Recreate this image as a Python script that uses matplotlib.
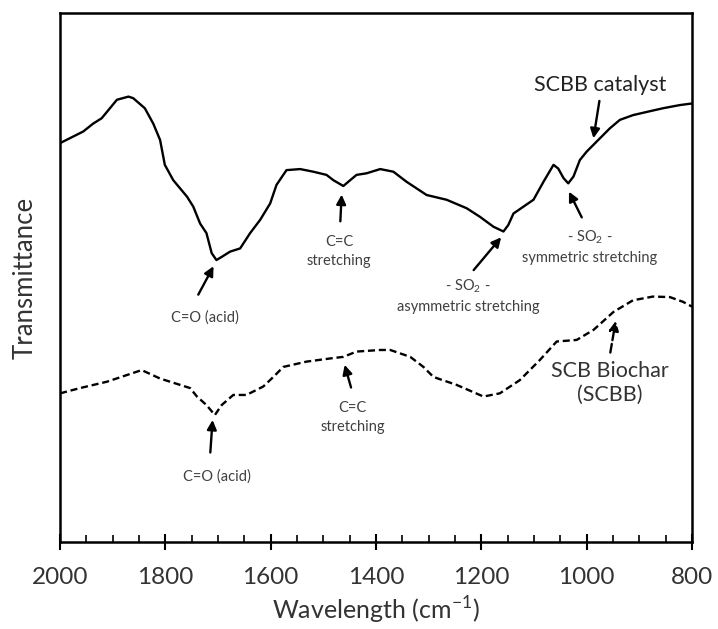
import matplotlib
matplotlib.use("Agg")
import matplotlib.pyplot as plt
from matplotlib.ticker import MultipleLocator

plt.rcParams['font.family'] = ['Lato', 'DejaVu Sans']
plt.rcParams['mathtext.fontset'] = 'custom'
plt.rcParams['mathtext.rm'] = 'Lato'

# SCBB catalyst (solid), wavenumber (cm-1) vs transmittance (a.u.)
catalyst_wn = [2000, 1956, 1937, 1921, 1911, 1892, 1870, 1861, 1839, 1823,
               1810, 1801, 1785, 1759, 1747, 1734, 1722, 1712, 1703, 1693,
               1677, 1658, 1639, 1620, 1601, 1589, 1570, 1544, 1519, 1494,
               1481, 1462, 1449, 1437, 1418, 1392, 1367, 1342, 1304, 1266,
               1228, 1203, 1177, 1158, 1149, 1139, 1120, 1101, 1082, 1063,
               1054, 1044, 1035, 1025, 1013, 1000, 975, 956, 937, 912,
               886, 855, 823, 800]
catalyst_t = [75.4, 77.6, 79.1, 80.1, 81.3, 83.6, 84.2, 83.9, 82.0, 79.1,
              76.0, 71.3, 68.4, 65.3, 63.4, 60.2, 58.4, 54.6, 53.3, 53.9,
              54.9, 55.5, 58.4, 60.9, 64.0, 67.5, 70.3, 70.5, 70.0, 69.4,
              68.4, 67.3, 68.4, 69.4, 69.7, 70.5, 70.0, 68.1, 65.6, 64.7,
              63.1, 61.5, 59.6, 58.7, 59.9, 62.1, 63.4, 64.7, 68.1, 71.3,
              70.6, 68.8, 67.8, 69.1, 72.2, 73.8, 76.3, 78.2, 79.8, 80.7,
              81.3, 82.0, 82.6, 82.9]

# SCB Biochar (dashed)
biochar_wn = [2000, 1962, 1911, 1845, 1810, 1753, 1740, 1722, 1706, 1693,
              1671, 1646, 1614, 1595, 1576, 1532, 1487, 1462, 1437, 1392,
              1373, 1335, 1310, 1291, 1247, 1196, 1165, 1127, 1089, 1057,
              1019, 987, 949, 912, 874, 842, 817, 800]
biochar_t = [28.1, 29.1, 30.3, 32.5, 30.9, 29.1, 27.5, 25.9, 24.0, 25.9,
             27.8, 27.8, 29.4, 31.2, 33.1, 34.1, 34.7, 35.0, 36.0, 36.3,
             36.3, 35.0, 33.1, 31.2, 29.7, 27.5, 28.1, 30.6, 34.4, 37.9,
             38.2, 40.1, 43.5, 45.7, 46.4, 46.3, 45.4, 44.5]

# peak labels: text, text position, arrow tail, arrow head
peak_labels = ["C=O (acid)", "C=C\nstretching",
               "- SO$_2$ -\nasymmetric stretching",
               "- SO$_2$ -\nsymmetric stretching",
               "C=C\nstretching", "C=O (acid)"]
peak_text_xy = [(1725, 42.5), (1470, 55.0), (1225, 46.5), (994, 55.8),
                (1444, 23.6), (1702, 12.3)]
peak_tail_xy = [(1740, 46.3), (1468, 60.1), (1218, 51.0), (1007, 60.9),
                (1446, 28.7), (1715, 16.4)]
peak_head_xy = [(1706, 52.6), (1465, 66.2), (1159, 58.0), (1036, 66.7),
                (1461, 34.0), (1710, 23.6)]


def main():
    fig = plt.figure(figsize=(7.18, 6.29), dpi=100)
    ax = fig.add_axes([0.0836, 0.1383, 0.8802, 0.841])

    ax.plot(catalyst_wn, catalyst_t, color="black", lw=1.7)
    ax.plot(biochar_wn, biochar_t, color="black", lw=1.7,
            linestyle=(0, (3, 1.6)))

    for lab, txy, tail, head in zip(peak_labels, peak_text_xy,
                                    peak_tail_xy, peak_head_xy):
        ax.text(txy[0], txy[1], lab, ha="center", va="center",
                fontsize=10.5, color="#404040", linespacing=1.45)
        ax.annotate("", xy=head, xytext=tail,
                    arrowprops=dict(arrowstyle="-|>", color="black",
                                    lw=1.7, mutation_scale=14))

    # series labels
    ax.text(975, 86.4, "SCBB catalyst", ha="center", va="center",
            fontsize=15.5, color="#222222")
    ax.annotate("", xy=(988, 75.8), xytext=(975, 83.9),
                arrowprops=dict(arrowstyle="-|>", color="black",
                                lw=1.7, mutation_scale=14))
    ax.text(956, 30.1, "SCB Biochar\n(SCBB)", ha="center", va="center",
            fontsize=15.5, color="#333333", linespacing=1.2)
    ax.annotate("", xy=(944, 42.3), xytext=(956, 35.3),
                arrowprops=dict(arrowstyle="-|>", color="black",
                                lw=1.7, linestyle="--", mutation_scale=14))

    ax.set_xlim(2000, 800)
    ax.set_ylim(0, 100)
    ax.xaxis.set_major_locator(MultipleLocator(200))
    ax.xaxis.set_minor_locator(MultipleLocator(50))
    ax.tick_params(axis="x", which="major", direction="inout", length=12,
                   width=1.5, labelsize=17.5, pad=12, colors="black",
                   labelcolor="#333333")
    ax.tick_params(axis="x", which="minor", direction="in", length=5,
                   width=1.2)
    ax.set_yticks([])
    for sp in ax.spines.values():
        sp.set_linewidth(1.8)

    ax.set_xlabel("Wavelength (cm$^{-1}$)", fontsize=18, labelpad=5,
                  color="#333333")
    ax.set_ylabel("Transmittance", fontsize=18.5, labelpad=16,
                  color="#333333")

    fig.savefig("out.png", dpi=100)
    plt.close(fig)


if __name__ == '__main__':
    main()
